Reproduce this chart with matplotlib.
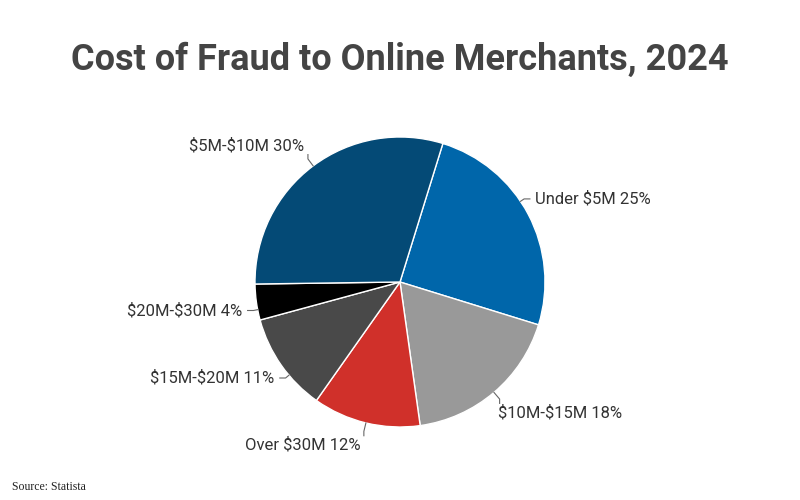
import numpy as np
import matplotlib.pyplot as plt

# data
labels = ['Under $5M', '$10M-$15M', 'Over $30M', '$15M-$20M', '$20M-$30M', '$5M-$10M']
shares = [25, 18, 12, 11, 4, 30]
colors = ['#0066aa', '#999999', '#d0302a', '#494949', '#000000', '#044a76']

START = 72.8  # degrees, first slice begins here and runs clockwise
# small angle shifts (deg) for where each connector leaves the pie
nudge = [6, 0, 0, 5, 3, 0]

plt.rcParams['font.family'] = ['Roboto', 'DejaVu Sans']
plt.rcParams['text.parse_math'] = False

fig = plt.figure(figsize=(8, 5), dpi=100)
ax = fig.add_axes([0.25, 0.036, 0.5, 0.8])

wedges, _ = ax.pie(shares, colors=colors, startangle=START, counterclock=False,
                   wedgeprops=dict(edgecolor='white', linewidth=1), radius=1.0)
lim = 200 / 145
ax.set_xlim(-lim, lim)
ax.set_ylim(-lim, lim)
ax.set_aspect('equal')
ax.axis('off')

# outside labels with short connectors
for w, lab, s, dn in zip(wedges, labels, shares, nudge):
    mid = np.deg2rad((w.theta1 + w.theta2) / 2 + dn)
    c, si = np.cos(mid), np.sin(mid)
    txt = f'{lab} {s}%'
    x0, y0 = c, si
    if abs(si) > 0.7:
        # label above / below, connector bends vertical
        x1, y1 = 1.06 * c, 1.06 * si
        v = np.sign(si)
        y2 = y1 + v * 0.03
        ax.plot([x0, x1, x1], [y0, y1, y2], color='#666666', lw=0.8)
        ax.text(x1 + np.sign(c) * 0.42, y2 + v * 0.01, txt, ha='center',
                va='bottom' if v > 0 else 'top', fontsize=12, color='#333333')
    else:
        x1, y1 = 1.03 * c, 1.03 * si
        side = 1 if c >= 0 else -1
        x2 = x1 + side * 0.04
        ax.plot([x0, x1, x2], [y0, y1, y1], color='#666666', lw=0.8)
        ax.text(x2 + side * 0.035, y1, txt, ha='left' if side > 0 else 'right',
                va='center', fontsize=12, color='#333333')

fig.text(0.5, 0.88, 'Cost of Fraud to Online Merchants, 2024', ha='center', va='center',
         fontsize=26, fontweight='bold', color='#444444')
fig.text(0.015, 0.025, 'Source: Statista', ha='left', va='center', fontsize=8.5,
         color='#222222', family=['Liberation Serif', 'DejaVu Serif'])

fig.savefig('out.png', dpi=100)
